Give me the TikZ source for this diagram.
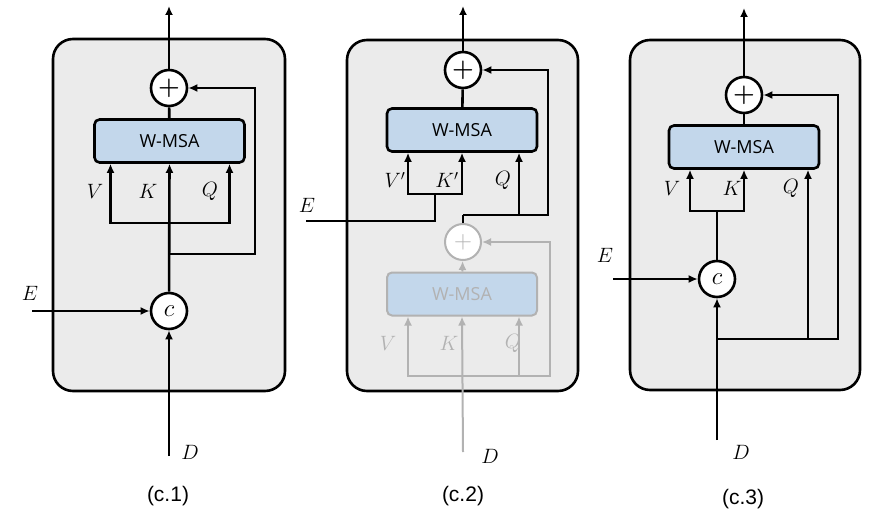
\documentclass[tikz,border=0pt]{standalone}
\usepackage{fontspec}
\setsansfont{Liberation Sans}
\newfontfamily\msafont{Open Sans}
\usepackage{amsmath}
\usetikzlibrary{positioning}
\usetikzlibrary{calc}
\usetikzlibrary{arrows.meta}
\definecolor{panelgray}{HTML}{EBEBEB}
\definecolor{msablue}{HTML}{C3D7EB}
\definecolor{fadegray}{HTML}{B2B2B2}

\begin{document}
\begin{tikzpicture}[x=1pt, y=-1pt, line width=2.6pt,
	>={Latex[length=9pt, width=8pt]},
	panel/.style={draw, fill=panelgray, rounded corners=20pt, inner sep=0pt},
	msa/.style={draw, fill=msablue, rounded corners=5pt, minimum width=150pt, minimum height=43pt, inner sep=0pt, font=\msafont\fontsize{18}{18}\selectfont},
	plus/.style={draw, fill=white, circle, minimum size=36pt, inner sep=0pt, font=\fontsize{28}{28}\selectfont},
	lab/.style={font=\fontsize{20}{20}\selectfont, inner sep=0pt},
	caption/.style={font=\sffamily\fontsize{21}{21}\selectfont, inner sep=0pt},
	faded/.style={draw=fadegray, text=fadegray, line width=2pt}]
	\useasboundingbox (0,0) rectangle (870,524);

	% (c.1)
	\node[panel, minimum width=232pt, minimum height=352pt] (panA) at (169,215) {};
	\node[plus] (plusA) at (169,88) {$\boldsymbol{+}$};
	\node[msa] (msaA) at (169.5,141) {W-MSA};
	\node[plus] (catA) at (169,311) {\fontsize{32}{32}\selectfont$c$};
	\coordinate (outA) at (169,6);
	\coordinate (splitA) at (169,223);
	\coordinate (resA) at (169,254);
	\coordinate (inEA) at (32,311);
	\coordinate (inDA) at (169,456);
	\draw[->] (plusA) -- (outA);
	\draw (msaA) -- (plusA);
	\draw[->] (catA) -- (msaA.south);
	\draw[->] (splitA) -| ([xshift=-59pt]msaA.south);
	\draw[->] (splitA) -| ([xshift=60pt]msaA.south);
	\draw[->] (resA) -- ++(86,0) |- (plusA);
	\draw[->] (inEA) -- (catA);
	\draw[->] (inDA) -- (catA);
	\node[lab] (vA) at (95,191) {$V$};
	\node[lab] (kA) at (148,191) {$K$};
	\node[lab] (qA) at (210,191) {$Q$};
	\node[lab] (eA) at (30,293) {$E$};
	\node[lab] (dA) at (190,452) {$D$};
	\node[caption] (capA) at (168,496) {(c.1)};

	% (c.2)
	\node[panel, minimum width=231pt, minimum height=351pt] (panB) at (462.5,215.5) {};
	\node[plus] (plusB) at (463,70) {$\boldsymbol{+}$};
	\node[msa] (msaB) at (462,130) {W-MSA};
	\node[plus, faded] (gplusB) at (463,242) {$+$};
	\node[msa, faded] (gmsaB) at (462,294) {W-MSA};
	\coordinate (outB) at (463,6);
	\coordinate (inEB) at (306,221);
	\coordinate (brB) at (435,194);
	\coordinate (jB) at (463,215);
	\coordinate (gbB) at (463,376);
	\coordinate (inDB) at (463,452);
	\draw[->] (plusB) -- (outB);
	\draw (msaB) -- (plusB);
	\draw (inEB) -| (brB);
	\draw[->] (brB) -| ([xshift=-54pt]msaB.south);
	\draw[->] (brB) -| (msaB.south);
	\draw (gplusB) -- (jB);
	\draw[->] (jB) -| ([xshift=57pt]msaB.south);
	\draw[->] (jB) -- ++(85,0) |- (plusB);
	\draw[->, faded] (gmsaB) -- (gplusB);
	\draw[->, faded] (inDB) -- (gmsaB.south);
	\draw[->, faded] (gbB) -| ([xshift=-54pt]gmsaB.south);
	\draw[->, faded] (gbB) -| ([xshift=57pt]gmsaB.south);
	\draw[->, faded] (gbB) -- ++(87,0) |- (gplusB);
	\node[lab] (vB) at (395,180) {$V'$};
	\node[lab] (kB) at (447,180) {$K'$};
	\node[lab] (qB) at (503,180) {$Q$};
	\node[lab, text=fadegray] (gvB) at (388,343) {$V$};
	\node[lab, text=fadegray] (gkB) at (449,343) {$K$};
	\node[lab, text=fadegray] (gqB) at (513,343) {$Q$};
	\node[lab] (eB) at (307,205) {$E$};
	\node[lab] (dB) at (490,456) {$D$};
	\node[caption] (capB) at (463,496) {(c.2)};

	% (c.3)
	\node[panel, minimum width=230pt, minimum height=350pt] (panC) at (745,215) {};
	\node[plus] (plusC) at (744,95) {$\boldsymbol{+}$};
	\node[msa] (msaC) at (744,147) {W-MSA};
	\node[plus] (catC) at (717,279) {\fontsize{32}{32}\selectfont$c$};
	\coordinate (outC) at (744,8);
	\coordinate (brC) at (717,211);
	\coordinate (jC) at (717,339);
	\coordinate (inEC) at (613,279);
	\coordinate (inDC) at (717,440);
	\draw[->] (plusC) -- (outC);
	\draw (msaC) -- (plusC);
	\draw (catC) -- (brC);
	\draw[->] (brC) -| ([xshift=-54pt]msaC.south);
	\draw[->] (brC) -| (msaC.south);
	\draw[->] (jC) -| ([xshift=64pt]msaC.south);
	\draw[->] (jC) -- ++(121,0) |- (plusC);
	\draw[->] (inEC) -- (catC);
	\draw[->] (inDC) -- (catC);
	\node[lab] (vC) at (672,188) {$V$};
	\node[lab] (kC) at (732,188) {$K$};
	\node[lab] (qC) at (791,188) {$Q$};
	\node[lab] (eC) at (605,255) {$E$};
	\node[lab] (dC) at (741,452) {$D$};
	\node[caption] (capC) at (743,499) {(c.3)};
\end{tikzpicture}
\end{document}
